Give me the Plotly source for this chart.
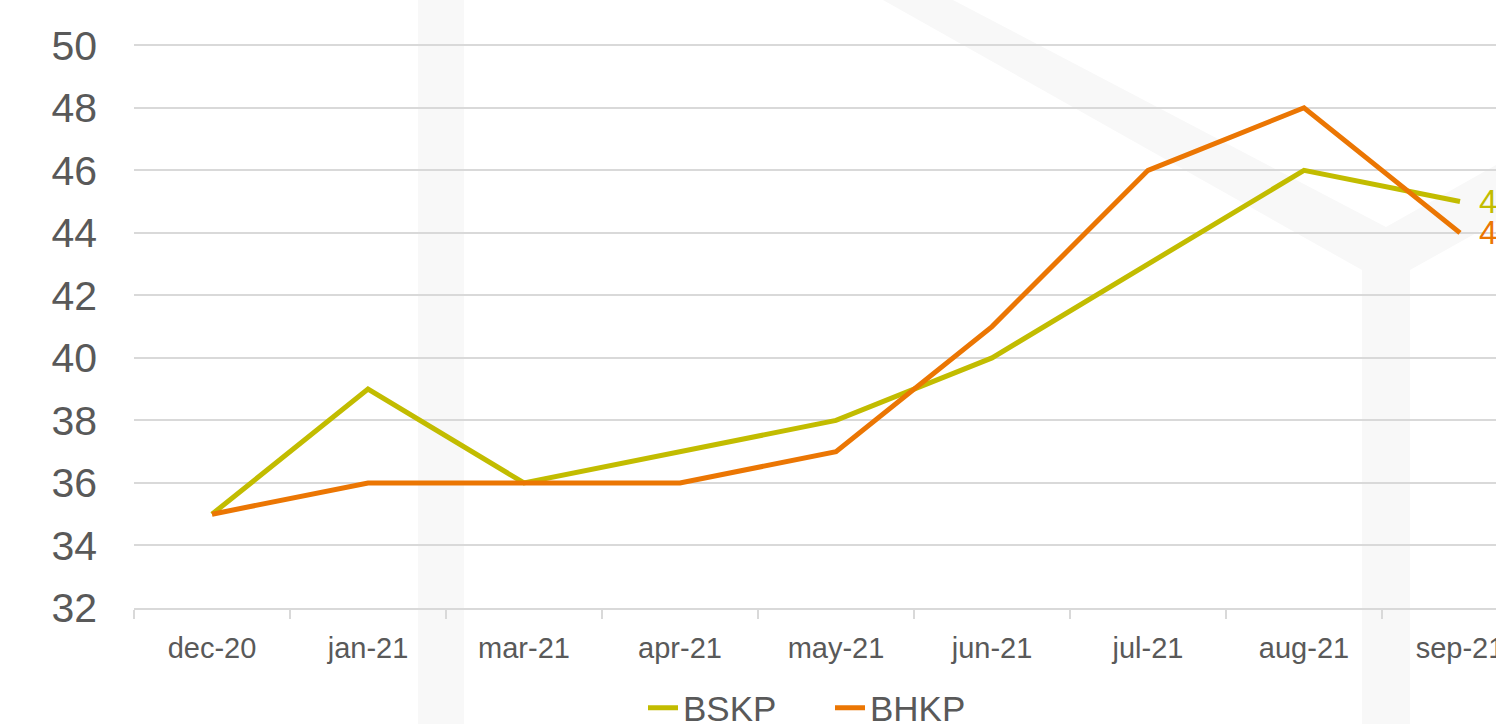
import plotly.graph_objects as go

categories = ["dec-20", "jan-21", "mar-21", "apr-21", "may-21", "jun-21", "jul-21", "aug-21", "sep-21"]
bskp = [35, 39, 36, 37, 38, 40, 43, 46, 45]
bhkp = [35, 36, 36, 36, 37, 41, 46, 48, 44]
y_ticks = [32, 34, 36, 38, 40, 42, 44, 46, 48, 50]

W, H = 1496, 724
ML, MR, MT, MB = 134, 0, 44, 116
PW, PH = W - ML - MR, H - MT - MB

C_BSKP = "#c2bc00"
C_BHKP = "#eb7603"
TXT = "#595959"
GRID = "#d9d9d9"
FONT = "Liberation Sans, Arial, sans-serif"


def px(x, y):
    return (x - ML) / PW, (H - MB - y) / PH


def path(points):
    pts = [px(x, y) for x, y in points]
    return "M " + " L ".join(f"{a:.5f},{b:.5f}" for a, b in pts) + " Z"


fig = go.Figure()
fig.add_trace(go.Scatter(x=categories, y=bskp, name="BSKP", mode="lines",
                         line=dict(color=C_BSKP, width=5), cliponaxis=False))
fig.add_trace(go.Scatter(x=categories, y=bhkp, name="BHKP", mode="lines",
                         line=dict(color=C_BHKP, width=5), cliponaxis=False))

for vals, col in ((bskp, C_BSKP), (bhkp, C_BHKP)):
    fig.add_annotation(x=categories[-1], y=vals[-1], text=str(vals[-1]), showarrow=False,
                       xanchor="left", yanchor="middle", xshift=17,
                       font=dict(family=FONT, size=33, color=col))

# faint watermark shapes
wm = "#f8f8f8"
shapes = [
    dict(type="path", xref="paper", yref="paper", layer="below", line=dict(width=0), fillcolor=wm,
         path=path([(418, 0), (464, 0), (464, 724), (418, 724)])),
    dict(type="path", xref="paper", yref="paper", layer="below", line=dict(width=0), fillcolor=wm,
         path=path([(883, 0), (953, 0), (1386, 227), (1496, 165), (1496, 222),
                    (1410, 270), (1410, 724), (1362, 724), (1362, 270)])),
]

fig.update_layout(
    template="none",
    width=W, height=H, autosize=False,
    margin=dict(l=ML, r=MR, t=MT, b=MB, pad=0, autoexpand=False),
    paper_bgcolor="white", plot_bgcolor="rgba(0,0,0,0)",
    font=dict(family=FONT, color=TXT),
    shapes=shapes,
    showlegend=True,
    legend=dict(orientation="h", x=px(643, 0)[0], xanchor="left",
                yref="container", y=(H - 708) / H, yanchor="middle",
                font=dict(family=FONT, size=35, color=TXT), bgcolor="rgba(0,0,0,0)",
                borderwidth=0, tracegroupgap=0, entrywidth=142, entrywidthmode="pixels"),
    xaxis=dict(type="category", range=[-0.5, -0.5 + PW / 156.0], showgrid=False,
               showline=True, linecolor=GRID, linewidth=1.5, automargin=False,
               ticks="outside", tickson="boundaries", ticklen=9, tickcolor=GRID, tickwidth=1.5,
               tickfont=dict(family=FONT, size=29, color=TXT), ticklabelstandoff=13,
               zeroline=False, fixedrange=True),
    yaxis=dict(range=[32, 50.04], tickvals=y_ticks, showgrid=True, gridcolor=GRID, gridwidth=1.5,
               showline=False, zeroline=False, ticks="", automargin=False,
               tickfont=dict(family=FONT, size=41, color=TXT), ticklabelstandoff=36,
               fixedrange=True),
)

fig.write_html("out.html", config={"displayModeBar": False},
               post_script="document.body.style.margin='0';document.body.style.overflow='hidden';")
